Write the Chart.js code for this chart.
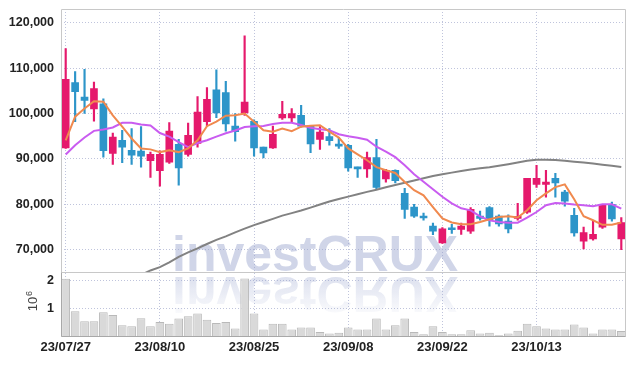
<!DOCTYPE html>
<html lang="ko">
<head>
<meta charset="UTF-8">
<title>investCRUX candle chart</title>
<script src="https://cdn.jsdelivr.net/npm/chart.js"></script>
<style>
  html, body { margin: 0; padding: 0; background: #fff; }
</style>
</head>
<body>
<canvas id="stockChart" width="634" height="366"></canvas>
<script>
// trading days shown on the x axis
const dates = [
  '23/07/27', '23/07/28', '23/07/31', '23/08/01', '23/08/02', '23/08/03', '23/08/04', '23/08/07', '23/08/08', '23/08/09',
  '23/08/10', '23/08/11', '23/08/14', '23/08/16', '23/08/17', '23/08/18', '23/08/21', '23/08/22', '23/08/23', '23/08/24',
  '23/08/25', '23/08/28', '23/08/29', '23/08/30', '23/08/31', '23/09/01', '23/09/04', '23/09/05', '23/09/06', '23/09/07',
  '23/09/08', '23/09/11', '23/09/12', '23/09/13', '23/09/14', '23/09/15', '23/09/18', '23/09/19', '23/09/20', '23/09/21',
  '23/09/22', '23/09/25', '23/09/26', '23/09/27', '23/10/04', '23/10/05', '23/10/06', '23/10/10', '23/10/11', '23/10/12',
  '23/10/13', '23/10/16', '23/10/17', '23/10/18', '23/10/19', '23/10/20', '23/10/23', '23/10/24', '23/10/25', '23/10/26'
];

const openPrices = [
  92400, 106800, 103600, 101000, 102100, 91200, 94100, 91900, 91700, 89600,
  87400, 89300, 93200, 91000, 93400, 98200, 105200, 104600, 97200, 100100,
  98300, 92600, 92400, 99000, 99000, 99600, 97200, 94300, 94900, 93200,
  93000, 88200, 87800, 90300, 85600, 87500, 82400, 79400, 77400, 75200,
  71500, 74800, 74500, 74100, 77400, 79300, 77400, 76300, 76900, 78300,
  84400, 84400, 85700, 82700, 77600, 71900, 72400, 75000, 80000, 72400
];
const highPrices = [
  114300, 109200, 109700, 106900, 103200, 95700, 96300, 96700, 97100, 91500,
  91800, 98000, 94300, 97900, 103700, 105700, 109600, 107100, 100000, 117100,
  98600, 92600, 97200, 102700, 101100, 101800, 97300, 97100, 96700, 94700,
  93200, 88200, 91500, 94300, 87700, 87600, 83500, 80000, 78100, 75900,
  74900, 75600, 75900, 79300, 78500, 79500, 77700, 77700, 80200, 85700,
  88600, 87500, 86800, 83100, 79100, 75000, 76300, 80000, 80500, 77100
];
const lowPrices = [
  92300, 98200, 100000, 98300, 90400, 88800, 89200, 88800, 88200, 85900,
  84000, 89000, 84200, 90600, 92600, 97200, 99100, 96100, 93900, 99600,
  90600, 90200, 92300, 98700, 98200, 97000, 91400, 92100, 93000, 92300,
  87300, 85900, 85900, 83300, 84900, 84700, 76900, 77100, 76500, 73300,
  71400, 73600, 73400, 73600, 76500, 75200, 75200, 73700, 76500, 78000,
  83700, 81600, 81600, 79600, 73000, 70200, 72100, 74700, 76300, 70000
];
const closePrices = [
  107500, 104800, 102900, 105500, 91800, 94800, 92600, 90800, 90600, 91000,
  91000, 96100, 88000, 95200, 100300, 103100, 100100, 97700, 96000, 102500,
  92400, 91300, 95400, 99800, 100000, 97200, 93300, 95900, 94000, 92800,
  88000, 87800, 90300, 83700, 87500, 85200, 78900, 77400, 77000, 74100,
  74600, 74400, 75200, 78900, 76900, 76500, 75700, 74600, 77200, 85700,
  85700, 84900, 84700, 80700, 73700, 73800, 73400, 79800, 76800, 76000
];

// moving averages (orange, violet, grey)
const maShort = [
  94100, 99300, 101100, 102700, 102600, 99600, 97100, 94500, 92300, 92100,
  91500, 91900, 91500, 92300, 94100, 97200, 98200, 99500, 99600, 100000,
  98200, 96300, 96000, 96700, 96100, 97100, 97300, 97400, 96000, 94700,
  92300, 91000, 89700, 88200, 87500, 86900, 84900, 83100, 82000, 79400,
  76900, 76000, 75600, 75600, 76100, 76700, 77200, 77400, 77100, 78700,
  80900, 82400, 83800, 84400, 81100, 77400, 76500, 75500, 75500, 76000
];
const maMid = [
  90970, 93020, 94720, 96180, 96480, 96930, 97940, 97940, 97590, 97370,
  95700, 94900, 93700, 92600, 93500, 94100, 94900, 95650, 96250, 97030,
  97210, 97250, 97680, 97980, 97950, 97480, 96880, 96550, 96330, 95420,
  95000, 94680, 94240, 92690, 91590, 90380, 88610, 86620, 84970, 83310,
  81660, 80230, 79120, 78680, 77360, 76470, 76100, 75970, 75970, 77070,
  78310, 79790, 80290, 80160, 79940, 79790, 79570, 80010, 80010, 79060
];
const maLong = [
  null, null, null, null, null, null, null, null, 64450, 65450,
  66180, 67210, 68420, 69420, 70300, 71270, 72170, 72950, 73830, 74640,
  75420, 76100, 76810, 77510, 78060, 78640, 79280, 79960, 80620, 81170,
  81700, 82210, 82740, 83230, 83750, 84260, 84770, 85260, 85740, 86230,
  86620, 86980, 87330, 87660, 87950, 88170, 88480, 88830, 89200, 89600,
  89820, 89840, 89750, 89600, 89400, 89200, 88980, 88740, 88500, 88230
];

const volumes = [
  2050000, 910000, 550000, 550000, 870000, 770000, 410000, 380000, 660000, 380000,
  530000, 470000, 650000, 730000, 830000, 610000, 490000, 530000, 300000, 2060000,
  830000, 260000, 470000, 470000, 260000, 330000, 330000, 180000, 120000, 150000,
  330000, 260000, 260000, 650000, 260000, 410000, 650000, 180000, 100000, 380000,
  180000, 100000, 100000, 240000, 120000, 150000, 60000, 120000, 220000, 470000,
  380000, 300000, 260000, 260000, 440000, 330000, 120000, 260000, 260000, 210000
];

const priceTicks = [70000, 80000, 90000, 100000, 110000, 120000];
const volumeTicks = [1000000, 2000000];

const upColor = '#e5196c';
const downColor = '#2d95c9';
const gridColor = '#bfc4dc';
const candleColors = closePrices.map((c, i) => (c >= openPrices[i] ? upColor : downColor));

Chart.defaults.font.family = '"Liberation Sans", Arial, sans-serif';

// watermark, panel frames and the 10^6 unit label
const overlay = {
  id: 'overlay',
  beforeDatasetsDraw(chart) {
    const ctx = chart.ctx;
    ctx.save();
    ctx.font = 'bold 50px "Liberation Sans", Arial, sans-serif';
    ctx.textAlign = 'left';
    ctx.textBaseline = 'alphabetic';
    ctx.fillStyle = 'rgba(150, 162, 205, 0.45)';
    ctx.fillText('investCRUX', 172, 271);
    // mirrored copy fading downward
    ctx.translate(0, 277);
    ctx.scale(1, -1);
    const g = ctx.createLinearGradient(0, 0, 0, -38);
    g.addColorStop(0, 'rgba(150, 162, 205, 0.32)');
    g.addColorStop(1, 'rgba(150, 162, 205, 0.04)');
    ctx.fillStyle = g;
    ctx.fillText('investCRUX', 172, 0);
    ctx.restore();
  },
  afterDraw(chart) {
    const ctx = chart.ctx;
    const ys = chart.scales.y;
    const yv = chart.scales.yv;
    const L = Math.floor(chart.chartArea.left) + 0.5;
    const R = Math.floor(chart.chartArea.right) - 0.5;
    const T = Math.floor(ys.top) + 0.5;
    const M = Math.floor(ys.bottom) + 0.5;
    const B = Math.floor(yv.bottom) - 0.5;
    ctx.save();
    ctx.lineWidth = 1;
    ctx.strokeStyle = '#c8c8c8';
    ctx.beginPath();
    ctx.moveTo(L, M); ctx.lineTo(L, T); ctx.lineTo(R, T); ctx.lineTo(R, B);
    ctx.moveTo(L, M); ctx.lineTo(R, M);
    ctx.stroke();
    ctx.strokeStyle = '#a8a8a8';
    ctx.beginPath();
    ctx.moveTo(L, M); ctx.lineTo(L, B); ctx.lineTo(R, B);
    ctx.stroke();

    ctx.translate(37, 304);
    ctx.rotate(-Math.PI / 2);
    ctx.fillStyle = '#444';
    ctx.textAlign = 'center';
    ctx.textBaseline = 'alphabetic';
    ctx.font = '13px "Liberation Sans", Arial, sans-serif';
    ctx.fillText('10', 0, 0);
    ctx.textAlign = 'left';
    ctx.font = '9px "Liberation Sans", Arial, sans-serif';
    ctx.fillText('6', 8, -5);
    ctx.restore();
  }
};

const yFont = { size: 12.5, weight: 'bold' };
const xFont = { size: 13, weight: 'bold' };

// keep the plot box fixed: no extra padding for edge labels
function fitY(s) {
  s.width = 61;
  s.paddingTop = 0;
  s.paddingBottom = 0;
}

new Chart(document.getElementById('stockChart'), {
  type: 'bar',
  data: {
    labels: dates,
    datasets: [
      { type: 'line', label: 'MA short', data: maShort, yAxisID: 'y', borderColor: '#f0894e', borderWidth: 2, pointRadius: 0, order: 1 },
      { type: 'line', label: 'MA mid', data: maMid, yAxisID: 'y', borderColor: '#c95cf0', borderWidth: 2, pointRadius: 0, order: 2 },
      { type: 'line', label: 'MA long', data: maLong, yAxisID: 'y', borderColor: '#828282', borderWidth: 2, pointRadius: 0, order: 3 },
      {
        label: 'body', yAxisID: 'y', order: 4, grouped: false,
        data: openPrices.map((o, i) => [o, closePrices[i]]),
        backgroundColor: candleColors, barThickness: 7, minBarLength: 2
      },
      {
        label: 'wick', yAxisID: 'y', order: 5, grouped: false,
        data: lowPrices.map((l, i) => [l, highPrices[i]]),
        backgroundColor: candleColors, barThickness: 1.5
      },
      {
        label: 'volume', yAxisID: 'yv', order: 6, grouped: false,
        data: volumes,
        backgroundColor: '#d9d9d9', borderColor: '#b9b9b9', borderWidth: 1,
        barPercentage: 0.92, categoryPercentage: 1
      }
    ]
  },
  plugins: [overlay],
  options: {
    responsive: false,
    devicePixelRatio: 1,
    animation: false,
    layout: { padding: { top: 9, right: 8, left: 0, bottom: 0 } },
    plugins: { legend: { display: false }, tooltip: { enabled: false } },
    scales: {
      x: {
        type: 'category',
        offset: true,
        grid: {
          offset: false,
          drawTicks: false,
          color: ctx => (ctx.index % 10 === 0 ? gridColor : 'transparent')
        },
        border: { display: false, dash: [1, 2] },
        ticks: {
          autoSkip: false, maxRotation: 0, minRotation: 0, padding: 3,
          color: '#222', font: xFont,
          callback: (v, i) => (i % 10 === 0 ? dates[i] : '')
        },
        afterFit: s => { s.height = 29; s.paddingLeft = 0; s.paddingRight = 0; }
      },
      // volume pane is listed first: stacked axes are laid out bottom-up
      yv: {
        stack: 'panes', stackWeight: 64.4, position: 'left',
        min: 0, max: 2270000,
        afterBuildTicks: s => { s.ticks = volumeTicks.map(v => ({ value: v })); },
        grid: { color: gridColor, drawTicks: false },
        border: { display: false, dash: [1, 2] },
        ticks: { padding: 7, color: '#222', font: yFont, callback: v => String(v / 1000000) },
        afterFit: fitY
      },
      y: {
        stack: 'panes', stackWeight: 263, position: 'left',
        min: 65000, max: 123000,
        afterBuildTicks: s => { s.ticks = priceTicks.map(v => ({ value: v })); },
        grid: { color: gridColor, drawTicks: false },
        border: { display: false, dash: [1, 2] },
        ticks: { padding: 7, color: '#222', font: yFont, callback: v => v.toLocaleString('en-US') },
        afterFit: fitY
      }
    }
  }
});
</script>
</body>
</html>
